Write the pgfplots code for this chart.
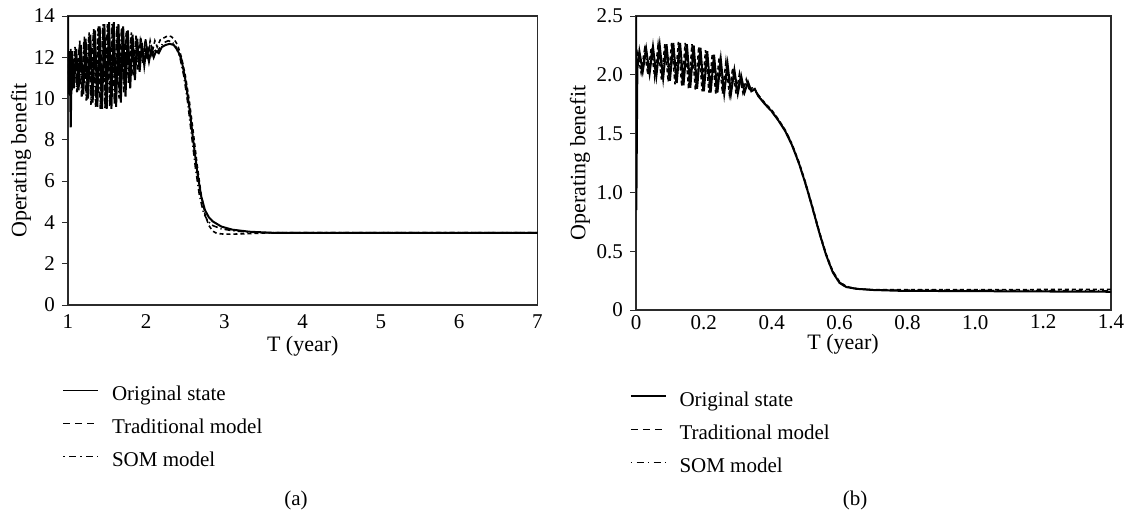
\documentclass[border=0pt]{standalone}
\usepackage{pgfplots}
\pgfplotsset{compat=1.18}
\usepackage{fontspec}
\setmainfont{Liberation Serif}

\definecolor{frame}{HTML}{2B2B2B}

\pgfplotsset{
  panel/.style={
    scale only axis,
    anchor=south west,
    axis line style={frame, line width=0.7pt},
    every tick/.style={frame, line width=0.5pt},
    tick align=outside,
    major tick length=3pt,
    xtick pos=bottom, ytick pos=left,
    x tick style={draw=none},
    extra x tick style={tick align=inside, major tick length=3pt,
      tick style={draw=frame, line width=0.6pt}},
    tick label style={font=\fontsize{10.5}{12}\selectfont},
    label style={font=\fontsize{11}{12}\selectfont},
    legend cell align=left,
    legend style={draw=none, fill=none, inner sep=0pt, outer sep=0pt,
      font=\fontsize{10.5}{12}\selectfont,
      nodes={inner sep=0pt, text height=6pt, text depth=2pt},
      row sep=8.6pt,
      /tikz/every odd column/.append style={column sep=6.5pt}},
    legend image code/.code={\draw[#1] (0pt,3.2pt) -- (17.5pt,3.2pt);},
  },
  orig/.style={black, line width=1pt, legend image post style={line width=0.6pt}},
  trad/.style={black, line width=0.8pt, dash pattern=on 2pt off 1.5pt,
    legend image post style={line width=0.6pt, dash pattern=on 3.5pt off 2.5pt}},
  som/.style={black, line width=0.8pt, dash pattern=on 0.6pt off 1.5pt on 3pt off 1.5pt,
    legend image post style={line width=0.6pt, dash pattern=on 0.6pt off 2.2pt on 3.5pt off 2.2pt}},
}

\begin{document}
\begin{tikzpicture}
\path (0,0) rectangle (566pt,-259.5pt);

% ---------------- panel (a)
\begin{axis}[panel,
  at={(34pt,-152.5pt)}, width=234.75pt, height=144.5pt,
  xmin=1, xmax=7, ymin=0, ymax=14,
  xtick={1,2,3,4,5,6,7}, xticklabels={1,2,3,4,5,6,7},
  xticklabel style={yshift=1.5pt},
  extra x ticks={2.5,4,5.5}, extra x tick labels={},
  ytick={0,2,4,6,8,10,12,14}, yticklabels={0,2,4,6,8,10,12,14},
  xlabel={T (year)}, ylabel={Operating benefit},
  xlabel style={at={(axis description cs:0.5,-0.143)}, anchor=center},
  ylabel style={at={(axis description cs:-0.10,0.5)}, anchor=center},
  legend style={at={(axis description cs:-0.011,-0.289)}, anchor=north west},
]
\addplot[orig] coordinates {
(1.000,14.0) (1.004,10.2) (1.020,12.3) (1.035,8.6) (1.050,12.3) (1.075,10.5)
(1.105,12.4) (1.135,10.4) (1.165,12.6) (1.195,10.2) (1.225,12.9) (1.255,10.0)
(1.285,13.1) (1.315,9.8) (1.345,13.3) (1.375,9.6) (1.405,13.5) (1.435,9.5)
(1.465,13.6) (1.495,9.5) (1.525,13.7) (1.555,9.5) (1.585,13.7) (1.615,9.6)
(1.645,13.6) (1.675,9.8) (1.705,13.5) (1.735,10.1) (1.765,13.3) (1.795,10.5)
(1.825,13.1) (1.855,10.9) (1.885,12.9) (1.915,11.3) (1.945,12.7) (1.975,11.6)
(2.005,12.5) (2.035,11.8) (2.065,12.4) (2.095,12.0) (2.125,12.3) (2.160,12.2)
(2.200,12.5) (2.250,12.6) (2.300,12.65) (2.350,12.6) (2.400,12.35) (2.450,11.9)
(2.500,10.9) (2.550,9.6) (2.600,8.0) (2.650,6.5) (2.700,5.3) (2.750,4.6)
(2.800,4.25) (2.850,4.05) (2.960,3.8) (3.100,3.65) (3.320,3.55) (3.600,3.5)
(7.000,3.5)};
\addlegendentry{Original state}
\addplot[trad] coordinates {
(1.000,12.0) (1.015,10.3) (1.035,12.4) (1.060,10.6) (1.090,12.5) (1.120,10.3)
(1.150,12.8) (1.180,10.1) (1.210,13.0) (1.240,9.9) (1.270,13.2) (1.300,9.7)
(1.330,13.4) (1.360,9.6) (1.390,13.5) (1.420,9.5) (1.450,13.6) (1.480,9.6)
(1.510,13.6) (1.540,9.7) (1.570,13.6) (1.600,9.9) (1.630,13.5) (1.660,10.3)
(1.690,13.4) (1.720,10.7) (1.750,13.3) (1.780,11.1) (1.810,13.2) (1.840,11.4)
(1.870,13.1) (1.900,11.7) (1.930,13.0) (1.960,11.9) (1.990,12.9) (2.020,12.1)
(2.050,12.8) (2.080,12.3) (2.110,12.8) (2.140,12.5) (2.180,12.85) (2.230,12.95)
(2.280,13.05) (2.320,13.0) (2.360,12.85) (2.400,12.6) (2.450,12.0) (2.500,11.1)
(2.550,9.9) (2.600,8.4) (2.650,6.8) (2.700,5.4) (2.750,4.4) (2.800,3.85)
(2.850,3.58) (2.900,3.47) (3.000,3.43) (3.200,3.44) (3.400,3.47) (3.600,3.5)
(7.000,3.5)};
\addlegendentry{Traditional model}
\addplot[som] coordinates {
(1.000,11.0) (1.028,12.1) (1.053,10.4) (1.083,12.3) (1.113,10.3) (1.143,12.5)
(1.173,10.1) (1.203,12.8) (1.233,9.9) (1.263,13.0) (1.293,9.7) (1.323,13.2)
(1.353,9.6) (1.383,13.4) (1.413,9.5) (1.443,13.5) (1.473,9.5) (1.503,13.6)
(1.533,9.6) (1.563,13.6) (1.593,9.7) (1.623,13.5) (1.653,10.0) (1.683,13.4)
(1.713,10.3) (1.743,13.2) (1.773,10.7) (1.803,13.0) (1.833,11.1) (1.863,12.8)
(1.893,11.4) (1.923,12.7) (1.953,11.7) (1.983,12.6) (2.013,11.9) (2.043,12.5)
(2.073,12.1) (2.103,12.4) (2.133,12.2) (2.170,12.45) (2.220,12.7) (2.280,12.8)
(2.330,12.75) (2.380,12.5) (2.430,12.0) (2.480,11.1) (2.530,9.8) (2.580,8.2)
(2.630,6.6) (2.680,5.3) (2.730,4.5) (2.780,4.1) (2.850,3.85) (2.950,3.7)
(3.100,3.6) (3.300,3.53) (3.600,3.5) (7.000,3.5)};
\addlegendentry{SOM model}
\end{axis}

% ---------------- panel (b)
\begin{axis}[panel,
  at={(318pt,-155pt)}, width=237.5pt, height=147pt,
  xmin=0, xmax=1.4, ymin=0, ymax=2.5,
  xtick={0,0.2,0.4,0.6,0.8,1.0,1.2,1.4}, xticklabels={0,0.2,0.4,0.6,0.8,1.0,1.2,1.4},
  xticklabel style={yshift=4pt},
  extra x ticks={1.2}, extra x tick labels={},
  ytick={0,0.5,1.0,1.5,2.0,2.5}, yticklabels={0,0.5,1.0,1.5,2.0,2.5},
  xlabel={T (year)}, ylabel={Operating benefit},
  xlabel style={at={(axis description cs:0.436,-0.116)}, anchor=center},
  ylabel style={at={(axis description cs:-0.118,0.5)}, anchor=center},
  legend style={at={(axis description cs:-0.012,-0.287)}, anchor=north west},
]
\addplot[orig] coordinates {
(0.000,2.50) (0.001,0.85) (0.004,2.05) (0.010,2.20) (0.020,2.03) (0.030,2.22)
(0.040,2.01) (0.050,2.24) (0.060,1.99) (0.070,2.25) (0.080,1.97) (0.090,2.26)
(0.100,1.95) (0.110,2.27) (0.120,1.93) (0.130,2.27) (0.140,1.91) (0.150,2.26)
(0.160,1.89) (0.170,2.25) (0.180,1.88) (0.190,2.23) (0.200,1.86) (0.210,2.20)
(0.220,1.85) (0.230,2.17) (0.240,1.85) (0.250,2.13) (0.260,1.84) (0.270,2.09)
(0.280,1.84) (0.290,2.04) (0.300,1.84) (0.310,1.99) (0.320,1.85) (0.330,1.94)
(0.340,1.86) (0.350,1.88) (0.360,1.82) (0.380,1.75) (0.400,1.69) (0.420,1.61)
(0.440,1.52) (0.460,1.40) (0.480,1.25) (0.500,1.07) (0.520,0.87) (0.540,0.66)
(0.560,0.47) (0.580,0.32) (0.600,0.23) (0.620,0.195) (0.650,0.18) (0.700,0.17)
(0.780,0.163) (1.400,0.155)};
\addlegendentry{Original state}
\addplot[trad] coordinates {
(0.000,2.10) (0.005,2.18) (0.015,2.02) (0.025,2.21) (0.035,2.00) (0.045,2.23)
(0.055,1.98) (0.065,2.25) (0.075,1.96) (0.085,2.26) (0.095,1.94) (0.105,2.27)
(0.115,1.92) (0.125,2.28) (0.135,1.90) (0.145,2.27) (0.155,1.88) (0.165,2.26)
(0.175,1.87) (0.185,2.24) (0.195,1.86) (0.205,2.21) (0.215,1.85) (0.225,2.18)
(0.235,1.84) (0.245,2.15) (0.255,1.84) (0.265,2.11) (0.275,1.84) (0.285,2.06)
(0.295,1.84) (0.305,2.01) (0.315,1.85) (0.325,1.96) (0.335,1.86) (0.345,1.90)
(0.360,1.83) (0.380,1.76) (0.400,1.70) (0.420,1.62) (0.440,1.53) (0.460,1.41)
(0.480,1.26) (0.500,1.08) (0.520,0.88) (0.540,0.67) (0.560,0.48) (0.580,0.33)
(0.600,0.24) (0.620,0.20) (0.650,0.18) (0.700,0.172) (0.780,0.172) (1.400,0.175)};
\addlegendentry{Traditional model}
\addplot[som] coordinates {
(0.000,2.05) (0.008,2.19) (0.018,2.03) (0.028,2.21) (0.038,2.01) (0.048,2.23)
(0.058,1.99) (0.068,2.24) (0.078,1.97) (0.088,2.25) (0.098,1.95) (0.108,2.26)
(0.118,1.93) (0.128,2.26) (0.138,1.91) (0.148,2.25) (0.158,1.89) (0.168,2.24)
(0.178,1.88) (0.188,2.22) (0.198,1.86) (0.208,2.19) (0.218,1.85) (0.228,2.16)
(0.238,1.85) (0.248,2.12) (0.258,1.84) (0.268,2.08) (0.278,1.84) (0.288,2.03)
(0.298,1.84) (0.308,1.98) (0.318,1.85) (0.328,1.93) (0.338,1.86) (0.350,1.87)
(0.370,1.79) (0.390,1.72) (0.410,1.65) (0.430,1.57) (0.450,1.47) (0.470,1.33)
(0.490,1.16) (0.510,0.97) (0.530,0.76) (0.550,0.56) (0.570,0.39) (0.590,0.27)
(0.610,0.21) (0.640,0.185) (0.700,0.17) (1.400,0.163)};
\addlegendentry{SOM model}
\end{axis}

\node[font=\fontsize{10.5}{12}\selectfont] at (148pt,-250pt) {(a)};
\node[font=\fontsize{10.5}{12}\selectfont] at (427.5pt,-250pt) {(b)};
\end{tikzpicture}
\end{document}
